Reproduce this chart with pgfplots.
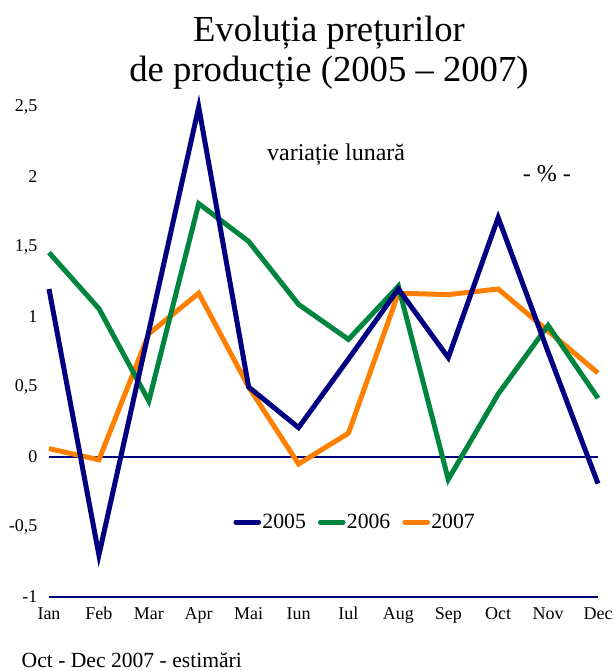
\documentclass[border=0pt]{standalone}
\usepackage{pgfplots}
\pgfplotsset{compat=1.18}
\usepackage{pgfplotstable}
\usepackage{fontspec}
\setmainfont{Liberation Serif}

\definecolor{navy}{RGB}{0,0,128}
\definecolor{dgreen}{RGB}{0,133,62}
\definecolor{orng}{RGB}{255,128,0}

% lunar variation, producer prices (%)
\pgfplotstableread{
x  y05   y06   y07
0  1.20  1.46  0.06
1 -0.70  1.06 -0.02
2  0.90  0.40  0.88
3  2.50  1.81  1.17
4  0.50  1.54  0.50
5  0.21  1.09 -0.05
6  0.70  0.84  0.17
7  1.20  1.22  1.17
8  0.71 -0.16  1.16
9  1.71  0.45  1.20
10 0.75  0.94  0.90
11 -0.19 0.42  0.60
}\prices

\begin{document}
\begin{tikzpicture}
\path[use as bounding box] (-36.75pt,-55.5pt) rectangle (425.25pt,447.75pt);
\begin{axis}[
    at={(0,0)}, anchor=south west,
    scale only axis,
    width=411.75pt, height=367.5pt,
    xmin=0, xmax=11, ymin=-1, ymax=2.5,
    axis x line=bottom, axis y line=left,
    x axis line style={draw=navy, line width=1.5pt, -},
    y axis line style={draw=none},
    tick style={draw=none},
    xtick={0,...,11},
    xticklabels={Ian,Feb,Mar,Apr,Mai,Iun,Iul,Aug,Sep,Oct,Nov,Dec},
    ytick={-1,-0.5,0,0.5,1,1.5,2,2.5},
    /pgf/number format/use comma,
    /pgf/number format/assume math mode=true,
    tick label style={font=\fontsize{13.5}{15}\selectfont},
    yticklabel style={anchor=east, xshift=-3pt},
    xticklabel style={yshift=-2pt},
    extra y ticks={0},
    extra y tick labels={},
    extra y tick style={grid=major, major grid style={draw=navy, line width=1.5pt}},
    clip=false,
    reverse legend,
    legend columns=3,
    legend style={draw=none, fill=none, at={(0.557,0.153)}, anchor=center,
      font=\fontsize{16.3}{18}\selectfont, column sep=0pt,
      nodes={inner sep=1pt},
      /tikz/every even column/.append style={column sep=8pt}},
    legend image code/.code={\draw[#1, line cap=round] (0pt,0pt) -- (17pt,0pt);},
  ]
  \addplot[orng, line width=3.75pt] table[x=x, y=y07] {\prices};
  \addlegendentry{2007}
  \addplot[dgreen, line width=3.75pt] table[x=x, y=y06] {\prices};
  \addlegendentry{2006}
  \addplot[navy, line width=3.75pt] table[x=x, y=y05] {\prices};
  \addlegendentry{2005}

  \node[font=\fontsize{27.5}{30}\selectfont, align=center]
    at (rel axis cs:0.51,1) [yshift=41pt] {Evoluția prețurilor\\de producție (2005 – 2007)};
  \node[font=\fontsize{18}{20}\selectfont] at (rel axis cs:0.523,0.902) {variație lunară};
  \node[font=\fontsize{18}{20}\selectfont] at (rel axis cs:0.907,0.863) {- \% -};
  \node[font=\fontsize{16.2}{18}\selectfont, anchor=base west]
    at (rel axis cs:0,0) [xshift=-24pt, yshift=-53pt] {Oct - Dec 2007 - estimări};
\end{axis}
\end{tikzpicture}
\end{document}
